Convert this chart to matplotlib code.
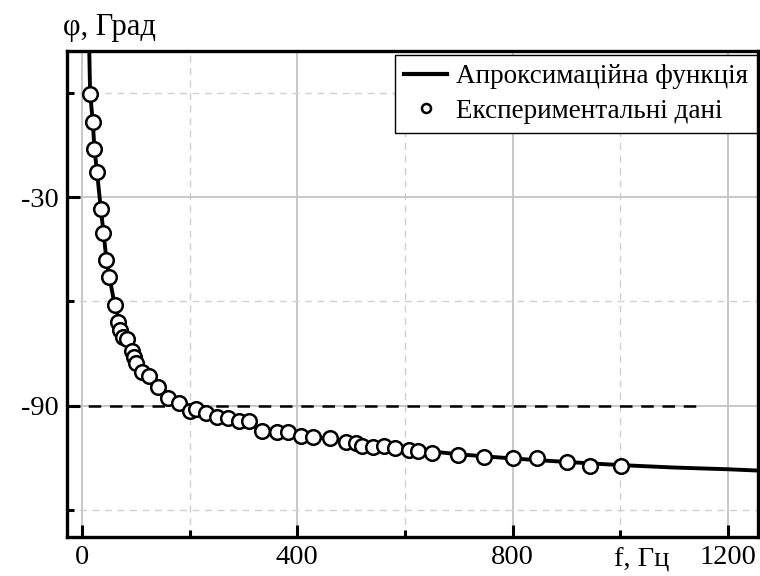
import matplotlib
matplotlib.use('Agg')
import matplotlib.pyplot as plt
import matplotlib.transforms as mtransforms
from matplotlib.lines import Line2D

plt.rcParams['font.family'] = ['Liberation Serif', 'DejaVu Serif']

f_exp = [14.9, 19.9, 22.8, 28.4, 35.3, 39.6, 44.6, 50.7, 61.3, 67.4, 70.6, 75.6, 83,
         92.3, 96.6, 100.3, 110.9, 125, 141.7, 160.3, 180.8, 200.6, 211.8, 230.4,
         250.2, 271.8, 292.2, 310.8, 333.8, 361.7, 383.2, 406.8, 429.7, 460.7,
         490.4, 509, 519.6, 540, 561, 581.5, 608, 624.7, 649.6, 699, 747.4, 801,
         844.7, 900.4, 943.7, 1000.7]
phi_exp = [-0.4, -8.3, -16.2, -22.7, -33.5, -40.3, -48.1, -53.1, -61.1, -65.9, -68.2,
           -70.2, -70.9, -74.2, -75.9, -77.8, -80.2, -81.5, -84.7, -87.9, -89.1,
           -91.4, -91.0, -92.2, -93.3, -93.6, -94.3, -94.3, -97.2, -97.5, -97.7,
           -98.6, -99.1, -99.4, -100.5, -100.8, -101.6, -101.8, -101.6, -102.3,
           -102.8, -103.1, -103.7, -104.2, -104.7, -105.1, -105.1, -106.3, -107.3,
           -107.3]

# approximation curve
f_fit = [13.5, 15, 20, 23, 28, 35, 40, 45, 51, 60, 70, 80, 90, 100, 110, 125, 140,
         160, 180, 200, 230, 270, 310, 360, 400, 460, 500, 560, 620, 700, 800, 900,
         1000, 1100, 1200, 1260]
phi_fit = [12, 0, -8.3, -16, -23, -33.5, -40.3, -47.5, -53, -60.5, -66, -70.5, -73.8,
           -76.8, -79.2, -82, -84.5, -87.2, -89.3, -91, -92.8, -94.4, -95.8, -97.2,
           -98.3, -99.6, -100.5, -101.6, -102.7, -104, -105.2, -106.2, -107.1,
           -107.8, -108.3, -108.7]

x_major = [0, 400, 800, 1200]
x_minor = [200, 600, 1000]
y_major = [-90, -30]
y_minor = [-120, -60, 0]
level = -90

fig = plt.figure(figsize=(7.6, 5.76), dpi=100)
ax = fig.add_axes([0.0878, 0.0682, 0.9096, 0.8433])

ax.plot(f_fit, phi_fit, color='black', lw=2.8, zorder=3)
ax.plot(f_exp, phi_exp, 'o', ms=10.5, mfc='white', mec='black', mew=1.8, zorder=4)
ax.plot([-28.4, 1140], [level, level], color='black', lw=1.8, ls=(0, (5, 3.5)), zorder=2)

ax.set_xlim(-28.4, 1256)
ax.set_ylim(-127.7, 12)

ax.set_xticks(x_major)
ax.set_xticks(x_minor, minor=True)
ax.set_yticks(y_major)
ax.set_yticks(y_minor, minor=True)
ax.set_xticklabels([str(v) for v in x_major])
ax.set_yticklabels([str(v) for v in y_major])

ax.grid(which='major', color='#c4c4c4', lw=1.3, ls='-', zorder=0)
ax.grid(which='minor', color='#d0d0d0', lw=1.0, ls=(0, (5, 4)), zorder=0)
ax.set_axisbelow(True)

ax.tick_params(which='both', direction='in', width=2.2, labelsize=20.5, color='black')
ax.tick_params(which='major', length=9, pad=6)
ax.tick_params(which='minor', length=5)
for s in ax.spines.values():
    s.set_linewidth(2.4)

trans = mtransforms.blended_transform_factory(ax.transData, ax.transAxes)
ax.text(1040, -0.022, 'f, Гц', transform=trans, ha='center', va='top', fontsize=20.5)
fig.text(63 / 760, 1 - 27 / 576, 'φ, Град', ha='left', va='center', fontsize=22)

handles = [Line2D([], [], color='black', lw=3),
           Line2D([], [], ls='none', marker='o', ms=6.5, mfc='white', mec='black', mew=1.8)]
leg = ax.legend(handles, ['Апроксимаційна функція', 'Експериментальні дані'],
                loc='upper right', bbox_to_anchor=(0.9986, 0.9918), borderaxespad=0,
                fontsize=19.5, fancybox=False, framealpha=1, edgecolor='black',
                handlelength=1.6, handletextpad=0.3, labelspacing=0.35, borderpad=0.35)
leg.get_frame().set_linewidth(1.0)

fig.savefig('out.png', dpi=100)
